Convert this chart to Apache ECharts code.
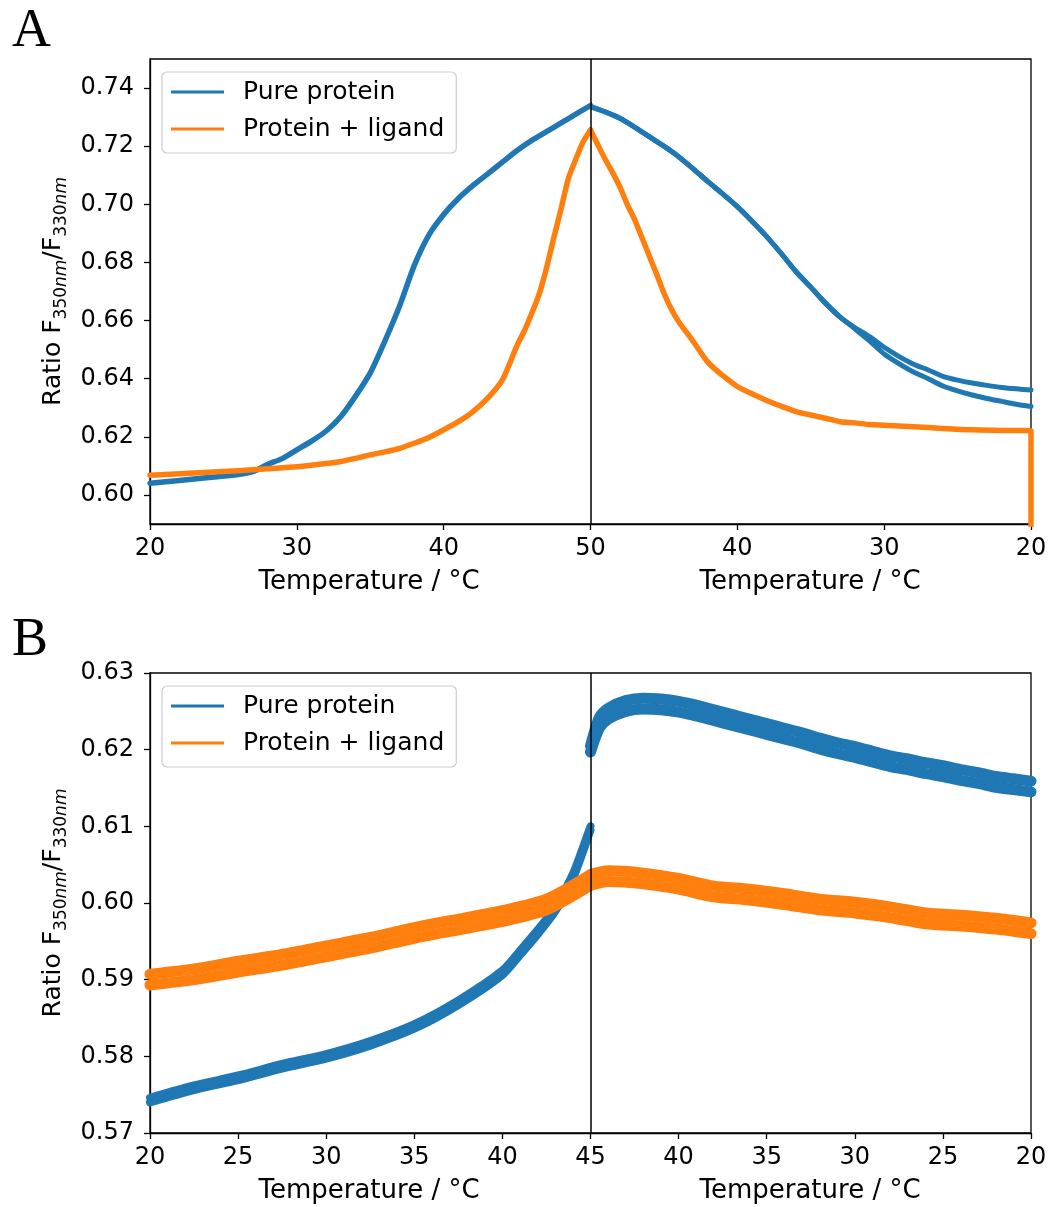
<!DOCTYPE html>
<html><head><meta charset="utf-8">
<script src="https://cdn.jsdelivr.net/npm/echarts@6/dist/echarts.min.js"></script>
<style>html,body{margin:0;padding:0;background:#fff}#c{width:1052px;height:1207px}</style>
</head><body><div id="c"></div>
<script>
const BLUE = '#1f77b4', ORANGE = '#ff7f0e';
const FONT = 'DejaVu Sans';

// ---------- Panel A ----------
const aStart = 20, aPeak = 50;
const aXTickLabels = [20, 30, 40, 50, 40, 30, 20];
const aYTicks = [0.60, 0.62, 0.64, 0.66, 0.68, 0.70, 0.72, 0.74];
const aHeatPureT = [20,22,24,26,27,28,29,30,31,32,33,34,35,36,37,38,39,40,41,42,43,44,45,46,47,48,49,50];
const aHeatPure  = [.604,.605,.606,.607,.608,.6105,.6125,.6155,.6185,.622,.627,.634,.642,.653,.665,.679,.6895,.6965,.702,.7065,.7105,.7145,.7185,.722,.725,.728,.731,.734];
const aHeatLigT  = [20,22,24,26,28,30,32,33,34,35,36,37,38,39,40,41,42,43,44,45,45.5,46,46.5,47,47.5,48,48.5,49,49.5,50];
const aHeatLig   = [.6068,.6073,.6078,.6083,.609,.6097,.6108,.6115,.6126,.6138,.6148,.616,.6178,.6198,.6224,.6252,.6287,.6333,.6396,.6515,.6565,.6625,.669,.678,.6885,.6985,.709,.7155,.7215,.7256];
const aCoolPureT = [50,49,48,47,46,45,44,43,42,41,40,39,38,37,36,35,34,33,32,31,30,29,28,27,26,25,24,23,22,21,20];
const aCoolPure1 = [.7336,.7318,.7296,.7266,.7233,.720,.7164,.7122,.7078,.7036,.6992,.6942,.6889,.683,.6768,.6715,.666,.6612,.6576,.6545,.6508,.6477,.645,.643,.6408,.6395,.6385,.6377,.637,.6365,.6361];
const aCoolPure2 = [.7336,.7318,.7296,.7266,.7233,.720,.7164,.7122,.7078,.7036,.6992,.6942,.6889,.683,.6768,.6715,.666,.6612,.6572,.653,.6485,.6452,.6423,.640,.6375,.6358,.6344,.6332,.6322,.6312,.6304];
const aCoolLigT  = [50,49.5,49,48.5,48,47.5,47,46.5,46,45.5,45,44.5,44,43,42,41,40,39,38,37,36,35,34,33,32,31,30,28,26,24,22,20,20];
const aCoolLig   = [.7256,.7205,.7155,.711,.706,.700,.6948,.6886,.6823,.676,.6695,.664,.6597,.6528,.6456,.6411,.6373,.6348,.6325,.6305,.6287,.6275,.6264,.6252,.6248,.6242,.6240,.6235,.6229,.6224,.6222,.622,.585];

// ---------- Panel B ----------
const bStart = 20, bPeak = 45;
const bXTickLabels = [20, 25, 30, 35, 40, 45, 40, 35, 30, 25, 20];
const bYTicks = [0.57, 0.58, 0.59, 0.60, 0.61, 0.62, 0.63];
const bHeatPureT = [20,22.5,25,27.5,30,32.5,35,37.5,40,41,42,43,44,44.5,45];
const bHeatPure1 = [.5746,.5762,.5775,.579,.5803,.582,.5842,.5873,.5912,.5938,.5965,.5995,.6038,.6068,.6100];
const bHeatPure2 = [.5740,.5756,.5769,.5784,.5797,.5814,.5836,.5867,.5906,.5932,.5959,.5989,.6032,.6062,.6095];
const bHeatLigT  = [20,22.5,25,27.5,30,32.5,35,37.5,40,42.5,45];
const bHeatLig1  = [.5907,.5914,.5924,.5933,.5944,.5955,.5968,.5979,.599,.6005,.6037];
const bHeatLig2  = [.5893,.5900,.5910,.5919,.5930,.5941,.5954,.5965,.5976,.5991,.6023];
const bCoolPureT = [45,44.5,44,43,42,41,40,39,38,37,36,35,34,33,32,31,30,29,28,27,26,25,24,23,22,21,20];
const bCoolPure1 = [.6205,.6242,.6254,.6264,.6267,.6266,.6263,.6258,.6252,.6246,.6240,.6234,.6228,.6222,.6215,.6209,.6204,.6198,.6192,.6188,.6183,.6179,.6174,.6170,.6165,.6162,.6159];
const bCoolPure2 = [.6197,.6228,.6240,.6250,.6253,.6252,.6249,.6244,.6238,.6232,.6226,.6220,.6214,.6208,.6201,.6195,.6190,.6184,.6178,.6174,.6169,.6165,.6160,.6156,.6151,.6148,.6145];
const bCoolLigT  = [45,44,42,40,38,36,34,32,30,28,26,24,22,20];
const bCoolLig1  = [.6037,.6042,.6039,.6032,.6022,.6018,.6012,.6005,.6001,.5995,.5987,.5984,.5980,.5974];
const bCoolLig2  = [.6023,.6028,.6025,.6018,.6008,.6004,.5998,.5991,.5987,.5981,.5973,.5970,.5966,.5960];

// position along the run: heating from start to peak, then cooling back
const heatPts = (T, V, start) => T.map((t, i) => [t - start, V[i]]);
const coolPts = (T, V, start, peak) => T.map((t, i) => [(peak - start) + (peak - t), V[i]]);

function line(name, data, color, width, xi, extra) {
  return Object.assign({
    type: 'line', name, data, xAxisIndex: xi, yAxisIndex: xi,
    showSymbol: false, symbol: 'none', smooth: 0.25, silent: true,
    lineStyle: { color, width, cap: 'round', join: 'round' },
    itemStyle: { color }
  }, extra || {});
}
function vline(x) {
  return { silent: true, symbol: ['none', 'none'], label: { show: false },
    lineStyle: { color: '#000', width: 1.5, type: 'solid' }, data: [{ xAxis: x }] };
}

const P = 'Pure protein', L = 'Protein + ligand';
const aSpan = aPeak - aStart, bSpan = bPeak - bStart;

const series = [
  line(P, heatPts(aHeatPureT, aHeatPure, aStart), BLUE, 5.5, 0),
  line(P, coolPts(aCoolPureT, aCoolPure1, aStart, aPeak), BLUE, 5, 0),
  line(P, coolPts(aCoolPureT, aCoolPure2, aStart, aPeak), BLUE, 5, 0),
  line(L, heatPts(aHeatLigT, aHeatLig, aStart), ORANGE, 5.5, 0),
  line(L, coolPts(aCoolLigT, aCoolLig, aStart, aPeak), ORANGE, 5.5, 0, { markLine: vline(aSpan) }),

  line(P, heatPts(bHeatPureT, bHeatPure1, bStart), BLUE, 8, 1),
  line(P, heatPts(bHeatPureT, bHeatPure2, bStart), BLUE, 8, 1),
  line(P, coolPts(bCoolPureT, bCoolPure1, bStart, bPeak), BLUE, 11, 1),
  line(P, coolPts(bCoolPureT, bCoolPure2, bStart, bPeak), BLUE, 11, 1),
  line(L, heatPts(bHeatLigT, bHeatLig1, bStart), ORANGE, 11, 1),
  line(L, heatPts(bHeatLigT, bHeatLig2, bStart), ORANGE, 11, 1),
  line(L, coolPts(bCoolLigT, bCoolLig1, bStart, bPeak), ORANGE, 11, 1),
  line(L, coolPts(bCoolLigT, bCoolLig2, bStart, bPeak), ORANGE, 11, 1, { markLine: vline(bSpan) })
];

function xAxis(gi, span, step, labels) {
  return {
    type: 'value', gridIndex: gi, min: 0, max: 2 * span, interval: step,
    axisLine: { show: true, lineStyle: { color: '#000', width: 1.3 } },
    axisTick: { show: true, inside: false, length: 6, lineStyle: { color: '#000', width: 1.3 } },
    axisLabel: { show: true, margin: 13, color: '#000', fontSize: 24, fontFamily: FONT,
      formatter: (v, idx) => String(labels[idx]) },
    splitLine: { show: false }
  };
}
const yName = '{m|Ratio F}{s|350}{si|nm}{m|/F}{s|330}{si|nm}';
function yAxis(gi, min, max, ticks) {
  return {
    type: 'value', gridIndex: gi, min, max,
    axisLine: { show: true, lineStyle: { color: '#000', width: 1.3 } },
    axisTick: { show: true, inside: false, length: 6, customValues: ticks, lineStyle: { color: '#000', width: 1.3 } },
    axisLabel: { show: true, margin: 16, color: '#000', fontSize: 24, fontFamily: FONT,
      customValues: ticks, formatter: v => v.toFixed(2) },
    splitLine: { show: false },
    name: yName, nameLocation: 'middle', nameRotate: 90, nameGap: 81,
    nameTextStyle: {
      color: '#000', fontFamily: FONT, fontSize: 25,
      rich: {
        m: { fontSize: 25, lineHeight: 25, verticalAlign: 'top', color: '#000', fontFamily: FONT },
        s: { fontSize: 17, lineHeight: 17, verticalAlign: 'top', padding: [12, 0, 0, 0], color: '#000', fontFamily: FONT },
        si: { fontSize: 17, lineHeight: 17, verticalAlign: 'top', padding: [12, 0, 0, 0], fontStyle: 'italic', color: '#000', fontFamily: FONT }
      }
    }
  };
}
function legend(top) {
  return {
    orient: 'vertical', left: 162, top, data: [P, L],
    icon: 'rect', itemWidth: 53, itemHeight: 3, itemGap: 11,
    padding: [7, 12, 11, 9],
    backgroundColor: 'rgba(255,255,255,0.8)', borderColor: '#cccccc', borderWidth: 1.2, borderRadius: 5,
    selectedMode: false,
    textStyle: { fontSize: 25, color: '#000', fontFamily: FONT, lineHeight: 26, padding: [0, 0, 0, 14] },
    itemStyle: { borderWidth: 0 }
  };
}
function tempLabel(cx, cy) {
  return {
    type: 'text', x: cx, y: cy, silent: true,
    style: {
      text: 'Temperature / \u00B0C', align: 'center', verticalAlign: 'middle',
      fontSize: 26, fontFamily: FONT, fill: '#000'
    }
  };
}
function letter(t, x, y) {
  return { type: 'text', x, y, silent: true,
    style: { text: t, fontSize: 54, fontFamily: 'Liberation Serif', fill: '#000', align: 'left', verticalAlign: 'middle' } };
}

const option = {
  animation: false,
  backgroundColor: '#fff',
  textStyle: { fontFamily: FONT },
  grid: [
    { left: 150, top: 59, width: 881, height: 465, show: true, borderColor: '#000', borderWidth: 1.3, containLabel: false, outerBoundsMode: 'none' },
    { left: 150, top: 673, width: 881, height: 460, show: true, borderColor: '#000', borderWidth: 1.3, containLabel: false, outerBoundsMode: 'none' }
  ],
  xAxis: [ xAxis(0, aSpan, 10, aXTickLabels), xAxis(1, bSpan, 5, bXTickLabels) ],
  yAxis: [ yAxis(0, 0.59, 0.75, aYTicks), yAxis(1, 0.57, 0.63, bYTicks) ],
  legend: [ legend(72), legend(686) ],
  graphic: [
    letter('A', 12, 32), letter('B', 12, 641),
    tempLabel(369, 582), tempLabel(810, 582),
    tempLabel(369, 1191), tempLabel(810, 1191)
  ],
  series
};
const chart = echarts.init(document.getElementById('c'), null, { renderer: 'canvas' });
chart.setOption(option);
</script>
</body></html>
